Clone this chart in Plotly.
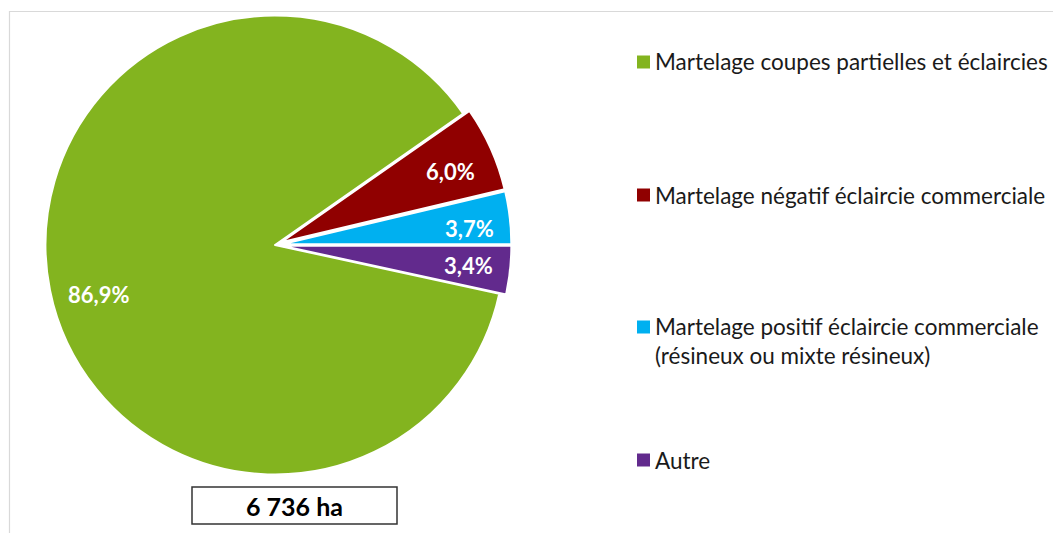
import math
import plotly.graph_objects as go

# ---- data ----
categories = [
    "Martelage coupes partielles et éclaircies",
    "Martelage négatif éclaircie commerciale",
    "Martelage positif éclaircie commerciale<br>(résineux ou mixte résineux)",
    "Autre",
]
values = [86.9, 6.0, 3.7, 3.4]
value_labels = ["86,9%", "6,0%", "3,7%", "3,4%"]
total_label = "6 736 ha"

colors = ["#83B41F", "#900000", "#00B0F0", "#622A8D"]
pulls = [0, 0.03, 0.03, 0.03]
label_angle_offsets = [-4.4, 1.5, 1.8, 0.0]   # label placement tweak (deg)
label_radius = [0.80, 0.80, 0.82, 0.82]

W, H = 1053, 533
FONT = "Lato"

# pie geometry (pixels)
cx, cy, R = 275.0, 245.0, 229.5
half = R * (1 + max(pulls))
rotation = 102.24  # degrees clockwise from 12 o'clock where first slice starts


def px(x):
    return x / W


def py(y):
    return 1 - y / H


fig = go.Figure()
fig.add_trace(go.Pie(
    labels=categories,
    values=values,
    sort=False,
    direction="clockwise",
    rotation=rotation,
    pull=pulls,
    marker=dict(colors=colors, line=dict(color="white", width=2)),
    textinfo="none",
    hoverinfo="label+percent",
    showlegend=False,
    domain=dict(x=[px(cx - half), px(cx + half)], y=[py(cy + half), py(cy - half)]),
))

annotations = []
shapes = []

# data labels placed at mid-angle of each slice
total = sum(values)
start = rotation
for v, lab, pl, off, rf in zip(values, value_labels, pulls, label_angle_offsets, label_radius):
    span = v / total * 360
    mid = start + span / 2 + off  # clockwise from top
    start += span
    ang = math.radians(90 - mid)
    r = R * (rf + pl)
    x = cx + r * math.cos(ang)
    y = cy - r * math.sin(ang)
    annotations.append(dict(
        x=px(x), y=py(y), xref="paper", yref="paper", text="<b>%s</b>" % lab,
        showarrow=False, font=dict(family=FONT, size=22, color="white"),
        xanchor="center", yanchor="middle",
    ))

# manual legend
leg_y = [62, 195, 341, 460]
for cat, col, ly in zip(categories, colors, leg_y):
    first_line_y = ly if "<br>" not in cat else ly - 14
    shapes.append(dict(type="rect", xref="paper", yref="paper",
                       x0=px(637), x1=px(650), y0=py(first_line_y + 6.5), y1=py(first_line_y - 6.5),
                       fillcolor=col, line=dict(width=0)))
    annotations.append(dict(
        x=px(653), y=py(ly), xref="paper", yref="paper", text=cat,
        showarrow=False, align="left", xanchor="left", yanchor="middle",
        font=dict(family=FONT, size=22.5, color="#1a1a1a"),
    ))

# total box
shapes.append(dict(type="rect", xref="paper", yref="paper",
                   x0=px(192), x1=px(397), y0=py(524), y1=py(487),
                   fillcolor="white", line=dict(color="#333333", width=1.5)))
annotations.append(dict(
    x=px(294.5), y=py(505.5), xref="paper", yref="paper", text="<b>%s</b>" % total_label,
    showarrow=False, xanchor="center", yanchor="middle",
    font=dict(family=FONT, size=25, color="black"),
))

# chart area border
shapes.append(dict(type="rect", xref="paper", yref="paper",
                   x0=px(9.5), x1=px(1070), y0=py(560), y1=py(11.5),
                   fillcolor="rgba(0,0,0,0)", line=dict(color="#D9D9D9", width=1.2),
                   layer="below"))

fig.update_layout(
    width=W, height=H,
    margin=dict(l=0, r=0, t=0, b=0),
    paper_bgcolor="white", plot_bgcolor="white",
    shapes=shapes, annotations=annotations,
    font=dict(family=FONT),
)

fig.write_html("out.html", config={"displayModeBar": False},
               post_script="document.body.style.margin='0';")
